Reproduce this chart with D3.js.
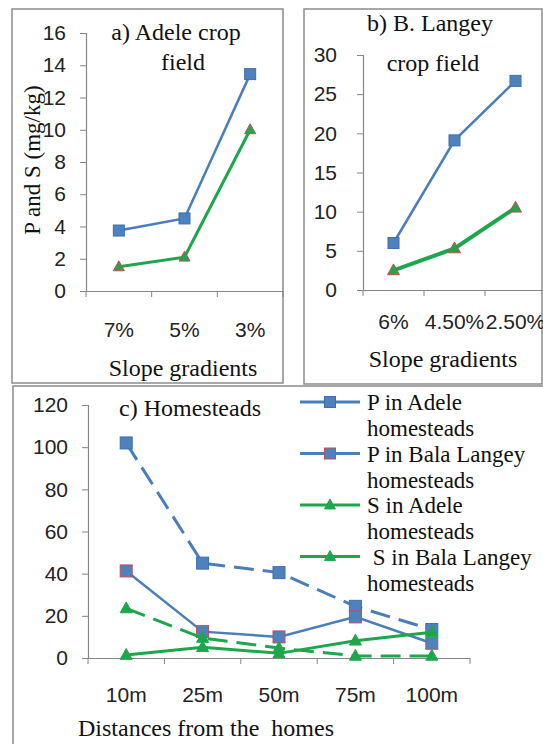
<!DOCTYPE html>
<html>
<head>
<meta charset="utf-8">
<script src="https://cdn.jsdelivr.net/npm/d3@7"></script>
<style>
  body { margin: 0; background: #fff; }
  svg { display: block; }
</style>
</head>
<body>
<script>
// panel a) Adele crop field
const slopesA = ['7%', '5%', '3%'];
const pAdeleField = [3.75, 4.5, 13.45];
const sAdeleField = [1.5, 2.1, 10.0];

// panel b) B. Langey crop field
const slopesB = ['6%', '4.50%', '2.50%'];
const pLangeyField = [6.0, 19.1, 26.7];
const sLangeyField = [2.5, 5.3, 10.5];

// panel c) Homesteads
const distances = ['10m', '25m', '50m', '75m', '100m'];
const pAdeleHome = [102, 45, 40.5, 24.5, 13.5];
const pLangeyHome = [41.3, 12.5, 10, 19.5, 7];
const sAdeleHome = [23.5, 9.5, 4.7, 1, 1];
const sLangeyHome = [1.4, 5.1, 2.2, 8.2, 12.2];

const BLUE = '#4a7ebb', BLUE_FILL = '#4f81bd', GREEN = '#1ea64c', RED_EDGE = '#c0504d';
const SERIF = '"Liberation Serif"';
const SANS = '"Liberation Sans"';

const svg = d3.select('body').append('svg')
    .attr('width', 543)
    .attr('height', 744);

// panel frames
svg.append('rect').attr('x', 12).attr('y', 9).attr('width', 271).attr('height', 374)
    .attr('fill', 'none').attr('stroke', '#8c8c8c').attr('stroke-width', 1.5);
svg.append('rect').attr('x', 304).attr('y', 9).attr('width', 238).attr('height', 375)
    .attr('fill', 'none').attr('stroke', '#8c8c8c').attr('stroke-width', 1.5);
svg.append('rect').attr('x', 13).attr('y', 386).attr('width', 600).attr('height', 400)
    .attr('fill', 'none').attr('stroke', '#8c8c8c').attr('stroke-width', 1.5);

function square(g, x, y, size, stroke) {
    g.append('rect')
        .attr('x', x - size / 2).attr('y', y - size / 2)
        .attr('width', size).attr('height', size)
        .attr('fill', BLUE_FILL).attr('stroke', stroke).attr('stroke-width', 1);
}

function triangle(g, x, y, size, stroke) {
    const h = size * 0.9;
    g.append('path')
        .attr('d', `M${x},${y - h * 0.6}L${x + size / 2},${y + h * 0.4}L${x - size / 2},${y + h * 0.4}Z`)
        .attr('fill', GREEN).attr('stroke', stroke).attr('stroke-width', 1);
}

function serifText(g, t, x, y, size, anchor) {
    return g.append('text')
        .attr('x', x).attr('y', y)
        .attr('text-anchor', anchor || 'middle')
        .attr('font-family', SERIF)
        .attr('font-size', size)
        .attr('fill', '#111')
        .text(t);
}

function drawPanel(p) {
    const g = svg.append('g');
    const x = d3.scaleBand().domain(p.cats).range(p.xRange);
    const y = d3.scaleLinear().domain([0, p.yMax]).range(p.yRange);

    const yAxis = g.append('g')
        .attr('transform', `translate(${p.xRange[0]},0)`)
        .call(d3.axisLeft(y).tickValues(d3.range(0, p.yMax + 0.1, p.yStep)).tickSize(6).tickPadding(p.yPad));
    const xAxis = g.append('g')
        .attr('transform', `translate(0,${p.yRange[0]})`)
        .call(d3.axisBottom(x).tickSize(0).tickPadding(p.xPad));
    xAxis.selectAll('.tick text').attr('dy', '0.35em');
    // tick marks between categories
    const edges = p.cats.map(c => x(c)).concat([x(p.cats[p.cats.length - 1]) + x.bandwidth()]);
    xAxis.selectAll('.sep').data(edges).join('line')
        .attr('x1', d => d).attr('x2', d => d).attr('y1', 0).attr('y2', 6)
        .attr('stroke', '#868686');
    [yAxis, xAxis].forEach(a => {
        a.attr('font-family', SANS).attr('font-size', 21);
        a.select('.domain').attr('stroke', '#868686').attr('stroke-width', 1.2);
        a.selectAll('.tick line').attr('stroke', '#868686');
        a.selectAll('.tick text').attr('fill', '#222');
    });

    const line = d3.line()
        .x((d, i) => x(p.cats[i]) + x.bandwidth() / 2)
        .y(d => y(d));

    p.series.forEach(s => {
        g.append('path').datum(s.values)
            .attr('fill', 'none')
            .attr('stroke', s.color)
            .attr('stroke-width', s.width)
            .attr('stroke-dasharray', s.dash || null)
            .attr('d', line);
        s.values.forEach((v, i) => {
            const cx = x(p.cats[i]) + x.bandwidth() / 2;
            if (s.marker === 'square') square(g, cx, y(v), s.size, s.edge);
            else triangle(g, cx, y(v), s.size, s.edge);
        });
    });

    p.title.forEach(t => serifText(g, t[0], t[1], t[2], 24));
    serifText(g, p.xTitle[0], p.xTitle[1], p.xTitle[2], 24);
}

drawPanel({
    cats: slopesA, xRange: [86, 283], yRange: [291, 33], yMax: 16, yStep: 2,
    yPad: 14, xPad: 39,
    series: [
        { values: pAdeleField, color: BLUE, width: 2.5, marker: 'square', size: 11, edge: '#3d6fb0' },
        { values: sAdeleField, color: GREEN, width: 3, marker: 'triangle', size: 11, edge: RED_EDGE }
    ],
    title: [['a) Adele crop', 176, 40], ['field', 183, 70]],
    xTitle: ['Slope gradients', 183, 376]
});

drawPanel({
    cats: slopesB, xRange: [363, 546], yRange: [290, 55], yMax: 30, yStep: 5,
    yPad: 20, xPad: 32,
    series: [
        { values: pLangeyField, color: BLUE, width: 2.5, marker: 'square', size: 11, edge: '#3d6fb0' },
        { values: sLangeyField, color: GREEN, width: 4, marker: 'triangle', size: 12, edge: RED_EDGE }
    ],
    title: [['b) B. Langey', 430, 31], ['crop field', 433, 71]],
    xTitle: ['Slope gradients', 443, 367]
});

drawPanel({
    cats: distances, xRange: [88, 470], yRange: [658, 405], yMax: 120, yStep: 20,
    yPad: 14, xPad: 37,
    series: [
        { values: pAdeleHome, color: BLUE, width: 3, dash: '20,9', marker: 'square', size: 12, edge: '#3d6fb0' },
        { values: pLangeyHome, color: BLUE, width: 2.5, marker: 'square', size: 12, edge: RED_EDGE },
        { values: sAdeleHome, color: GREEN, width: 3, dash: '20,9', marker: 'triangle', size: 12, edge: GREEN },
        { values: sLangeyHome, color: GREEN, width: 3, marker: 'triangle', size: 12, edge: GREEN }
    ],
    title: [['c) Homesteads', 190, 416]],
    xTitle: ['Distances from the\u00a0 homes', 206, 736]
});

// legend of panel c
const legendItems = [
    { label: ['P in Adele', 'homesteads'], color: BLUE, marker: 'square', edge: '#3d6fb0' },
    { label: ['P in Bala Langey', 'homesteads'], color: BLUE, marker: 'square', edge: RED_EDGE },
    { label: ['S in Adele', 'homesteads'], color: GREEN, marker: 'triangle', edge: GREEN },
    { label: ['\u00a0S in Bala Langey', 'homesteads'], color: GREEN, marker: 'triangle', edge: GREEN }
];
const legend = svg.append('g');
legendItems.forEach((d, i) => {
    const cy = 402 + i * 51.5;
    legend.append('line').attr('x1', 300).attr('x2', 360).attr('y1', cy).attr('y2', cy)
        .attr('stroke', d.color).attr('stroke-width', 3);
    if (d.marker === 'square') square(legend, 330, cy, 11, d.edge);
    else triangle(legend, 330, cy, 11, d.edge);
    d.label.forEach((t, j) => serifText(legend, t, 367, cy + 8 + j * 26, 23, 'start'));
});

// y axis title for panel a
serifText(svg, 'P and S (mg/kg)', 0, 0, 23)
    .attr('transform', 'translate(40,160) rotate(-90)');
</script>
</body>
</html>
